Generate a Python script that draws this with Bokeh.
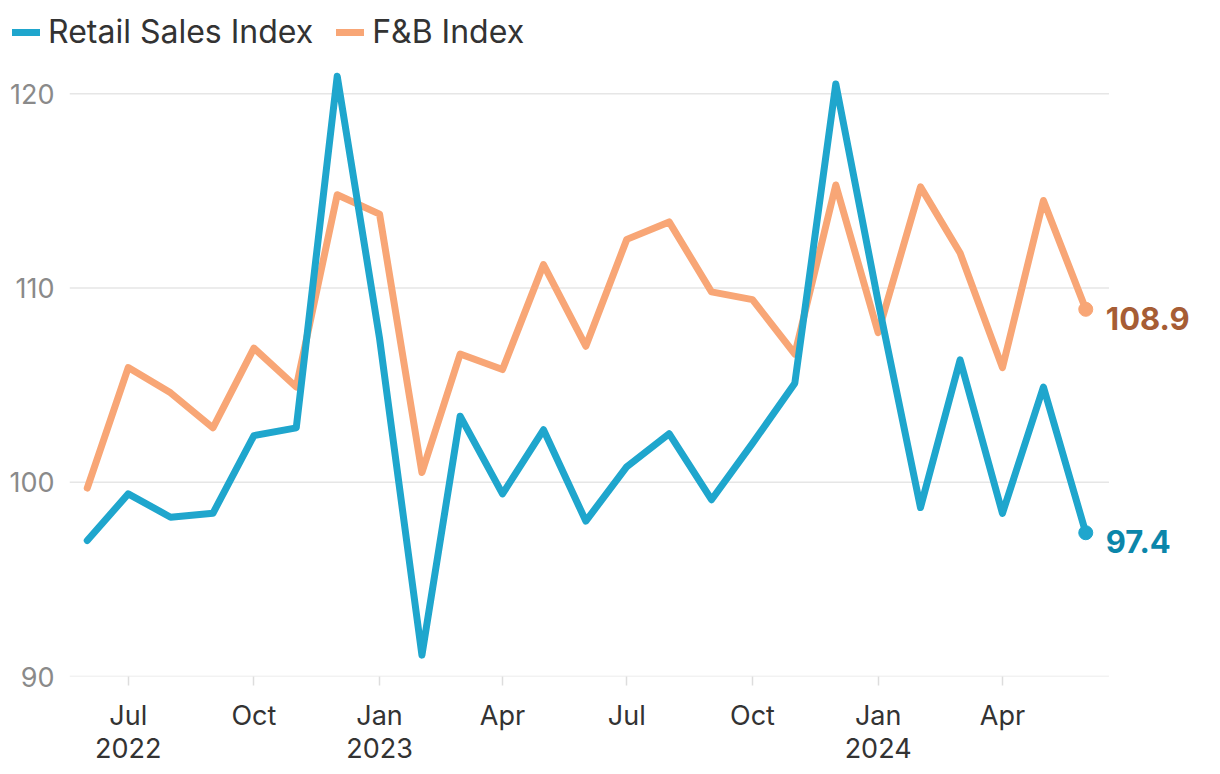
import pandas as pd
from bokeh.plotting import figure
from bokeh.layouts import column
from bokeh.models import (ColumnDataSource, FixedTicker, Legend, LegendItem,
                          DatetimeTickFormatter, Range1d)
from bokeh.core.properties import value
from bokeh.embed import file_html
from bokeh.resources import INLINE

# ---- data ----
months = pd.date_range("2022-06-01", periods=25, freq="MS")
retail = [97.0, 99.4, 98.2, 98.4, 102.4, 102.8, 120.9, 107.4, 91.1, 103.4,
          99.4, 102.7, 98.0, 100.8, 102.5, 99.1, 102.0, 105.1, 120.5, 109.3,
          98.7, 106.3, 98.4, 104.9, 97.4]
fnb = [99.7, 105.9, 104.6, 102.8, 106.9, 104.9, 114.8, 113.8, 100.5, 106.6,
       105.8, 111.2, 107.0, 112.5, 113.4, 109.8, 109.4, 106.6, 115.3, 107.7,
       115.2, 111.8, 105.9, 114.5, 108.9]
tick_dates = ["2022-07-01", "2022-10-01", "2023-01-01", "2023-04-01",
              "2023-07-01", "2023-10-01", "2024-01-01", "2024-04-01"]
tick_labels = ["Jul\n2022", "Oct", "Jan\n2023", "Apr", "Jul", "Oct",
               "Jan\n2024", "Apr"]
y_ticks = [90, 100, 110, 120]
series_names = ["Retail Sales Index", "F&B Index"]

BLUE = "#1fa6cd"
ORANGE = "#f8a676"
BLUE_TXT = "#0b86aa"
ORANGE_TXT = "#a65d35"
GRID = "#e6e6e6"
FONT = "Inter"

def ms(d):
    return float(pd.Timestamp(d).value // 10**6)

x_start = ms("2022-05-19")
x_grid_end = ms("2024-06-18")
x_end = ms("2024-08-24")

# ---------------- main chart ----------------
p = figure(frame_width=1131, frame_height=611, x_axis_type="datetime",
           x_range=Range1d(x_start, x_end), y_range=Range1d(90, 121.45),
           output_backend="svg", toolbar_location=None,
           min_border_left=69, min_border_right=12, min_border_top=12,
           min_border_bottom=88)
p.outline_line_color = None
p.background_fill_color = "white"

# horizontal gridlines, limited to the data area (labels sit to the right)
p.segment(x0=x_start, x1=x_grid_end, y0=y_ticks, y1=y_ticks,
          line_color=GRID, line_width=1.5)

src = ColumnDataSource(dict(x=months, retail=retail, fnb=fnb))
r2 = p.line("x", "fnb", source=src, line_color=ORANGE, line_width=7,
            line_join="round", line_cap="round")
r1 = p.line("x", "retail", source=src, line_color=BLUE, line_width=7,
            line_join="round", line_cap="round")

end_src = ColumnDataSource(dict(
    x=[months[-1], months[-1]],
    y=[fnb[-1], retail[-1]],
    txt=[f"{fnb[-1]:.1f}", f"{retail[-1]:.1f}"],
    mc=[ORANGE, BLUE],
    tc=[ORANGE_TXT, BLUE_TXT],
))
p.scatter("x", "y", source=end_src, size=14, fill_color="mc", line_color="mc")
p.text("x", "y", text="txt", source=end_src, text_color="tc",
       text_font=value(FONT), text_font_style="bold", text_font_size="31px",
       text_baseline="middle", text_align="left", x_offset=20, y_offset=9)

xa = p.xaxis[0]
xa.ticker = FixedTicker(ticks=[ms(d) for d in tick_dates])
xa.formatter = DatetimeTickFormatter(months="%b")
xa.major_label_overrides = {ms(d): lab for d, lab in zip(tick_dates, tick_labels)}
xa.axis_line_color = None
xa.major_tick_line_color = "#dddddd"
xa.major_tick_line_width = 1.5
xa.major_tick_out = 9
xa.major_tick_in = 0
xa.minor_tick_line_color = None
xa.major_label_standoff = 13
xa.major_label_text_font = FONT
xa.major_label_text_font_size = "27px"
xa.major_label_text_color = "#333333"
xa.major_label_text_line_height = 1.0

ya = p.yaxis[0]
ya.ticker = FixedTicker(ticks=y_ticks)
ya.axis_line_color = None
ya.major_tick_line_color = None
ya.minor_tick_line_color = None
ya.major_tick_out = 0
ya.major_tick_in = 0
ya.major_label_standoff = 15
ya.major_label_text_font = FONT
ya.major_label_text_font_size = "27px"
ya.major_label_text_color = "#8a8a8a"

p.grid.grid_line_color = None

# ---------------- legend strip ----------------
lg = figure(frame_width=1212, frame_height=53, x_range=Range1d(0, 1),
            y_range=Range1d(0, 1), output_backend="svg", toolbar_location=None,
            min_border=0)
lg.axis.visible = False
lg.grid.visible = False
lg.outline_line_color = None
d1 = lg.line(x=[5, 6], y=[5, 6], line_color=BLUE, line_width=7, line_cap="round")
d2 = lg.line(x=[5, 6], y=[5, 6], line_color=ORANGE, line_width=7, line_cap="round")
legend = Legend(items=[LegendItem(label=series_names[0], renderers=[d1]),
                       LegendItem(label=series_names[1], renderers=[d2])],
                orientation="horizontal", location=(12, 2),
                glyph_width=28, glyph_height=30, label_standoff=8, spacing=23,
                padding=0, margin=0, border_line_color=None,
                background_fill_alpha=0,
                label_text_font=FONT, label_text_font_size="32px",
                label_text_color="#333333")
lg.add_layout(legend, "center")

layout = column(lg, p, spacing=0)
open("out.html", "w").write(file_html(layout, INLINE))
